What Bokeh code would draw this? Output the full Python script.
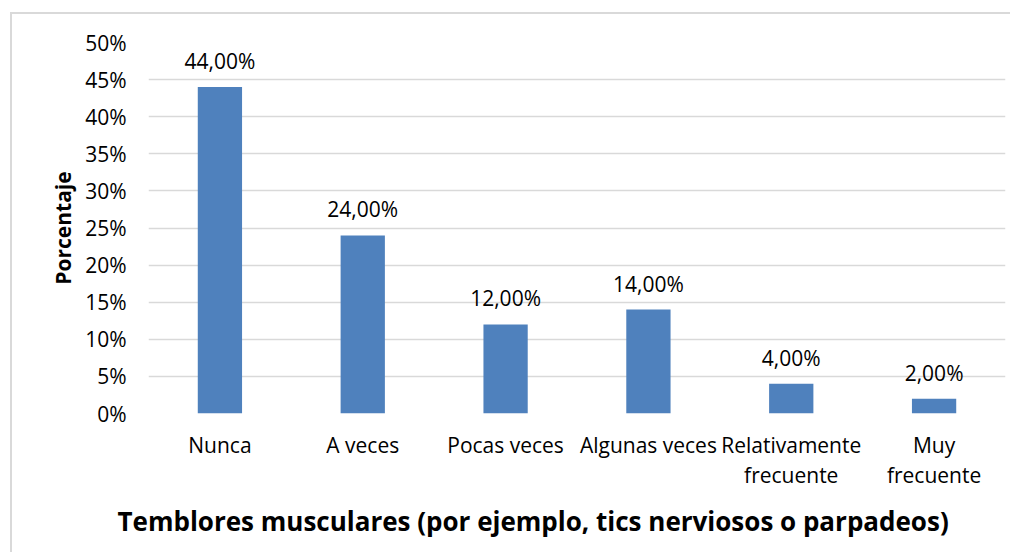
from bokeh.plotting import figure
from bokeh.models import FactorRange, Range1d, FixedTicker, CustomJSTickFormatter, Title
from bokeh.core.properties import value
from bokeh.embed import file_html
from bokeh.resources import INLINE

categories = ["Nunca", "A veces", "Pocas veces", "Algunas veces",
              "Relativamente\nfrecuente", "Muy\nfrecuente"]
percentages = [44.0, 24.0, 12.0, 14.0, 4.0, 2.0]
value_labels = ["44,00%", "24,00%", "12,00%", "14,00%", "4,00%", "2,00%"]
y_ticks = [0, 5, 10, 15, 20, 25, 30, 35, 40, 45, 50]
x_title = "Temblores musculares (por ejemplo, tics nerviosos o parpadeos)"
y_title = "Porcentaje"

FONT = "Open Sans"
W, H = 1000, 540

p = figure(x_range=FactorRange(factors=categories, range_padding=0),
           y_range=Range1d(0, 50),
           width=W, height=H, output_backend="svg", toolbar_location=None,
           min_border_left=136, min_border_right=7,
           min_border_top=28, min_border_bottom=141)
p.styles = {"margin-left": "10px", "margin-top": "12px",
            "border-left": "2px solid #d9d9d9", "border-top": "2px solid #d9d9d9"}

p.vbar(x=categories, top=percentages, width=0.31, color="#4F81BD", line_color=None)

p.text(x=categories, y=percentages, text=value_labels, y_offset=-26,
       text_align="center", text_baseline="alphabetic",
       text_font=value(FONT), text_font_size="21px", text_color="#000000")

p.outline_line_color = None
p.background_fill_color = "white"
p.border_fill_color = "white"
p.xgrid.grid_line_color = None
p.ygrid.grid_line_color = "#d9d9d9"
p.ygrid.grid_line_width = 1.5

p.yaxis.ticker = FixedTicker(ticks=y_ticks)
p.yaxis.formatter = CustomJSTickFormatter(code="return tick.toFixed(0) + '%';")
p.yaxis.axis_line_color = None
p.yaxis.major_tick_line_color = None
p.yaxis.major_tick_out = 0
p.yaxis.major_tick_in = 0
p.yaxis.minor_tick_line_color = None
p.yaxis.major_label_standoff = 22
p.yaxis.major_label_text_font = FONT
p.yaxis.major_label_text_font_size = "21px"
p.yaxis.major_label_text_color = "#000000"
p.yaxis.axis_label = y_title
p.yaxis.axis_label_text_font = FONT
p.yaxis.axis_label_text_font_style = "bold"
p.yaxis.axis_label_text_font_size = "21px"
p.yaxis.axis_label_text_color = "#000000"
p.yaxis.axis_label_standoff = 5

p.xaxis.axis_line_color = None
p.xaxis.major_tick_line_color = None
p.xaxis.major_tick_out = 0
p.xaxis.major_tick_in = 0
p.xaxis.minor_tick_line_color = None
p.xaxis.major_label_standoff = 17
p.xaxis.major_label_text_font = FONT
p.xaxis.major_label_text_font_size = "21px"
p.xaxis.major_label_text_line_height = 1.1
p.xaxis.major_label_text_color = "#000000"

xt = Title(text=x_title, align="left", offset=-31, standoff=16,
           text_font=FONT, text_font_style="bold", text_font_size="26px",
           text_color="#000000")
p.add_layout(xt, "below")

open("out.html", "w").write(file_html(p, INLINE))
